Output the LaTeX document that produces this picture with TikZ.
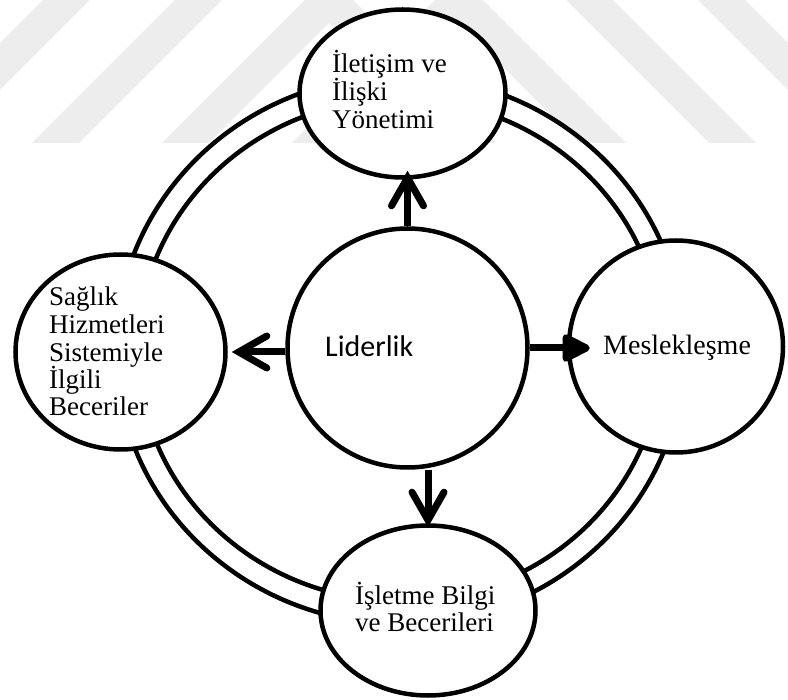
\documentclass[tikz,border=0pt]{standalone}
\usepackage{fontspec}
\setmainfont{Liberation Serif}
\newfontfamily\calibrifont{Carlito}
\usetikzlibrary{arrows.meta,shapes.geometric}
\definecolor{wm}{RGB}{237,237,237}
\begin{document}
\begin{tikzpicture}[x=1pt,y=-1pt,
  bub/.style={draw=black, line width=4.5pt, fill=white, ellipse, inner sep=0pt},
  ringline/.style={draw=black, line width=4.5pt},
  txt/.style={anchor=base west, inner sep=0pt, font=\fontsize{27}{27.5}\selectfont},
  arrbarb/.style={line width=7pt, -{Straight Barb[length=28pt,width=32pt,line cap=round]}},
  arrtri/.style={line width=7pt, -{Triangle[length=32pt,width=30pt,round]}}]
\useasboundingbox (0,0) rectangle (788,700);
% watermark stripes
\begin{scope}
\clip (0,0) rectangle (788,143);
\foreach \a in {43,175,305,435}{
  \fill[wm] (\a,0) -- (\a+47,0) -- (\a+47-143,143) -- (\a-143,143) -- cycle;
  \fill[wm] (788-\a,0) -- (788-\a-47,0) -- (788-\a-47+143,143) -- (788-\a+143,143) -- cycle;
}
\end{scope}
% double ring
\draw[ringline] (400,350) ellipse [x radius=284, y radius=274];
\draw[ringline] (400,350) ellipse [x radius=262, y radius=251];
% bubbles
\node[bub, minimum width=206pt, minimum height=168pt] (top) at (402.5,93.5) {};
\node[bub, minimum width=210pt, minimum height=195pt] (sag) at (120.5,352) {};
\node[bub, minimum width=214pt, minimum height=212pt] (mes) at (676,346.5) {};
\node[bub, minimum width=215pt, minimum height=170pt] (bot) at (428,610.5) {};
\node[bub, minimum width=240pt, minimum height=239pt] (lid) at (407.5,348) {};
% texts
\node[txt] (t1) at (332,73) {İletişim ve};
\node[txt] (t2) at (332,101) {İlişki};
\node[txt] (t3) at (332,128.5) {Yönetimi};
\node[txt] (s1) at (49,306) {Sağlık};
\node[txt] (s2) at (49,334) {Hizmetleri};
\node[txt] (s3) at (49,361.5) {Sistemiyle};
\node[txt] (s4) at (49,389) {İlgili};
\node[txt] (s5) at (49,416) {Beceriler};
\node[txt, font=\fontsize{28}{28}\selectfont] (m1) at (603,355) {Meslekleşme};
\node[txt] (b1) at (355,605) {İşletme Bilgi};
\node[txt] (b2) at (355,632) {ve Becerileri};
\node[anchor=base west, inner sep=0pt, font=\calibrifont\fontsize{30}{30}\selectfont] (l1) at (325,357) {Liderlik};
% arrows
\draw[arrbarb, shorten >=-9pt] (lid.north) -- (lid.north |- top.south);
\draw[arrbarb, shorten >=4pt] (lid.west |- sag.east) -- (sag.east);
\draw[arrtri, shorten >=-23pt] (lid.east) -- (lid.east -| mes.west);
\draw[arrbarb, shorten >=-4pt] (bot.north |- lid.south) -- (bot.north);
\end{tikzpicture}
\end{document}
